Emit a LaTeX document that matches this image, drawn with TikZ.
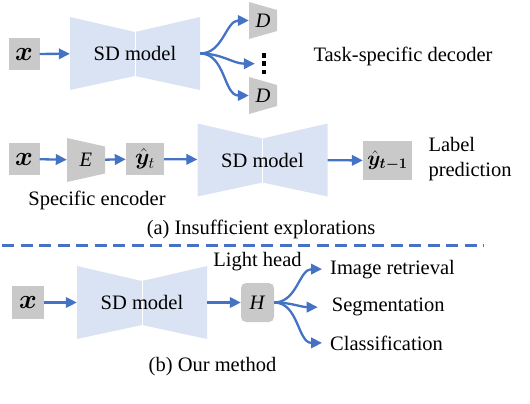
\documentclass[tikz,border=0pt]{standalone}
\usepackage{fix-cm}
\usepackage{bm}
\usepackage{fontspec}
\setmainfont{Liberation Serif}
\usetikzlibrary{arrows.meta,calc}
\definecolor{arrblue}{HTML}{4472C4}
\definecolor{sdblue}{HTML}{DAE3F3}
\definecolor{boxgray}{HTML}{C9C9C9}

\begin{document}
\begin{tikzpicture}[x=1pt, y=-1pt,
  font=\fontsize{20.5}{25}\selectfont,
  inbox/.style={fill=boxgray, inner sep=0pt, font=\fontsize{#1}{28}\selectfont},
  inbox/.default=27,
  headbox/.style={fill=boxgray, rounded corners=5pt, inner sep=0pt},
  sd/.style={minimum width=130pt, minimum height=73pt, inner sep=0pt,
    path picture={
      \fill[sdblue] (path picture bounding box.north west)
        -- ([yshift=-15pt]path picture bounding box.north)
        -- (path picture bounding box.north east)
        -- (path picture bounding box.south east)
        -- ([yshift=14pt]path picture bounding box.south)
        -- (path picture bounding box.south west) -- cycle;
      \draw[white, line width=0.6pt] ([yshift=-15pt]path picture bounding box.north)
        -- ([yshift=14pt]path picture bounding box.south);}},
  trap/.style={inner sep=0pt,
    path picture={
      \fill[boxgray] (path picture bounding box.north west)
        -- ([yshift=-#1]path picture bounding box.north east)
        -- ([yshift=#1]path picture bounding box.south east)
        -- (path picture bounding box.south west) -- cycle;}},
  arr/.style={draw=arrblue, line width=2.3pt, -{Triangle[length=11pt,width=10.5pt]}},
  lbl/.style={inner sep=0pt}]
\useasboundingbox (0,0) rectangle (530,404);

% (a) decoders on top of the SD model
\node[inbox, minimum width=31pt, minimum height=32pt] (x1) at (24,54) {$\bm{x}$};
\node[sd] (sd1) at (135,53.5) {\raisebox{-3pt}{SD model}};
\node[trap=8pt, minimum width=28pt, minimum height=37pt] (d1) at (263,20.5) {\textit{D}};
\node[trap=8pt, minimum width=28pt, minimum height=37pt] (d2) at (263,95.5) {\textit{D}};
\node[minimum width=18pt] (dots) at (264,63.7) {};
\foreach \dy in {-8.3,0,8.3}
  \fill ([yshift=\dy pt]dots.center) +(-2.2,-2.3) rectangle +(2.2,2.3);
\node[lbl, anchor=base] (tsd) at (403,61.7) {Task-specific decoder};
\draw[arr] (x1) -- (sd1);
\draw[arr] (sd1.east) to[out=0,in=180] (d1.west);
\draw[arr] (sd1.east) to[out=0,in=180] (dots.west);
\draw[arr] (sd1.east) to[out=0,in=180] (d2.west);

% (a) specific encoder
\node[inbox, minimum width=31pt, minimum height=32pt] (x2) at (24,159) {$\bm{x}$};
\node[trap=8.5pt, minimum width=38pt, minimum height=44pt] (enc) at (86,160) {\textit{E}};
\node[inbox=23, minimum width=38pt, minimum height=32pt] (yt) at (145,159) {$\hat{\bm{y}}_t$};
\node[sd] (sd2) at (262.5,160) {\raisebox{-3pt}{SD model}};
\node[inbox=21, minimum width=49pt, minimum height=39pt] (yt1) at (387.5,160.5) {$\hat{\bm{y}}_{\bm{t-1}}$};
\node[lbl, anchor=base west] (lab) at (428.3,151.7) {Label};
\node[lbl, anchor=base west] (pred) at (428.3,176.7) {prediction};
\node[lbl, anchor=base] (spec) at (97,205) {Specific encoder};
\node[lbl, anchor=base] (capa) at (261,234) {(a) Insufficient explorations};
\draw[arr] (x2) -- (enc);
\draw[arr] (enc) -- (yt);
\draw[arr] (yt) -- (sd2);
\draw[arr] (sd2) -- (yt1);

\coordinate (sepl) at (2,245.3);
\coordinate (sepr) at (484,245.3);
\draw[arrblue, line width=3pt, dash pattern=on 12pt off 6.5pt] (sepl) -- (sepr);

% (b) our method
\node[inbox, minimum width=32pt, minimum height=33pt] (x3) at (28,302.5) {$\bm{x}$};
\node[sd] (sd3) at (142,302.5) {\raisebox{-3pt}{SD model}};
\node[headbox, minimum width=33pt, minimum height=39pt] (head) at (257.5,302.5) {\textit{H}};
\node[lbl, anchor=base] (light) at (257.5,266.7) {Light head};
\node[lbl, anchor=base west] (ret) at (330,274) {Image retrieval};
\node[lbl, anchor=base west] (seg) at (331.7,311.7) {Segmentation};
\node[lbl, anchor=base west] (cls) at (330,350) {Classification};
\node[lbl, anchor=base] (capb) at (212.5,371) {(b) Our method};
\draw[arr] (x3) -- (sd3);
\draw[arr] (sd3) -- (head);
\draw[arr] (head.east) to[out=0,in=180] ([xshift=-8pt]ret.west);
\draw[arr] (head.east) to[out=0,in=180] ([xshift=-14pt]seg.west);
\draw[arr] (head.east) to[out=0,in=180] ([xshift=-8pt]cls.west);
\end{tikzpicture}
\end{document}
